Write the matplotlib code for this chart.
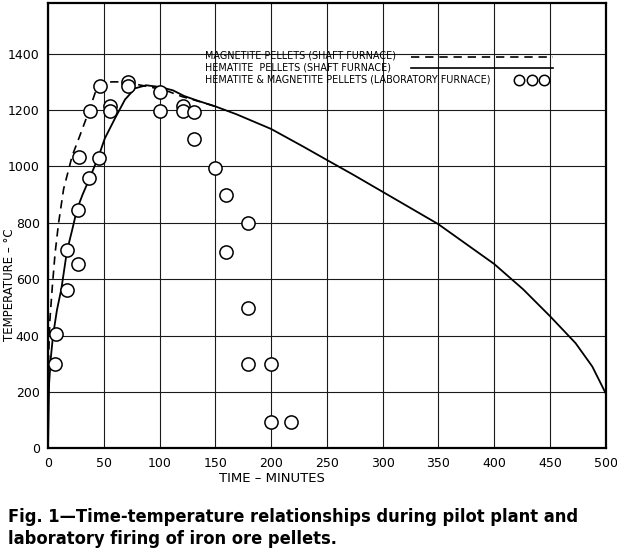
import matplotlib
matplotlib.use("Agg")
import matplotlib.pyplot as plt
from matplotlib.lines import Line2D

# ---- data ----
x_ticks = [0, 50, 100, 150, 200, 250, 300, 350, 400, 450, 500]
y_ticks = [0, 200, 400, 600, 800, 1000, 1200, 1400]

# Hematite pellets (shaft furnace) - solid
hem_t = [0, 1, 2.5, 4.5, 8, 12, 17, 22, 26, 31, 37, 45, 51, 60, 69, 78, 88,
         100, 112, 122, 135, 150, 169, 200, 229, 250, 273, 300, 350, 400,
         426, 450, 473, 488, 500]
hem_T = [0, 230, 320, 400, 490, 566, 700, 780, 848, 900, 955, 1032, 1100,
         1170, 1237, 1277, 1288, 1282, 1270, 1250, 1232, 1213, 1185, 1133,
         1070, 1023, 972, 910, 795, 654, 564, 469, 373, 290, 195]

# Magnetite pellets (shaft furnace) - dashed
mag_t = [0, 1.6, 3.8, 6.3, 9.4, 14, 21.7, 27.7, 36.6, 42.6, 47, 57, 69, 81,
         96, 108, 120, 136, 150]
mag_T = [250, 450, 570, 690, 797, 920, 1038, 1100, 1195, 1265, 1295, 1300,
         1300, 1290, 1278, 1266, 1248, 1230, 1213]

# Hematite & magnetite pellets (laboratory furnace) - circles
lab_t = [6, 7, 17, 17, 27, 27, 28, 37, 38, 46, 47, 56, 56, 72, 72, 100, 100,
         121, 121, 131, 131, 150, 160, 160, 179, 179, 179, 200, 200, 218]
lab_T = [300, 405, 560, 705, 655, 845, 1035, 958, 1195, 1030, 1285, 1215,
         1195, 1300, 1285, 1265, 1195, 1215, 1195, 1193, 1096, 993, 900, 697,
         800, 498, 298, 298, 95, 95]

legend_labels = ["MAGNETITE PELLETS (SHAFT FURNACE)",
                 "HEMATITE  PELLETS (SHAFT FURNACE)",
                 "HEMATITE & MAGNETITE PELLETS (LABORATORY FURNACE)"]
caption = ("Fig. 1\u2014Time-temperature relationships during pilot plant and\n"
           "laboratory firing of iron ore pellets.")

# ---- figure ----
fig = plt.figure(figsize=(6.17, 5.56), dpi=100)
ax = fig.add_axes([0.0778, 0.1937, 0.9039, 0.801])
ax.set_xlim(0, 500)
ax.set_ylim(0, 1580)
ax.set_xticks(x_ticks)
ax.set_yticks(y_ticks)
ax.grid(True, color="#1a1a1a", linewidth=0.8)
ax.set_axisbelow(True)
ax.tick_params(length=0, labelsize=9, pad=6)
for s in ax.spines.values():
    s.set_linewidth(1.6)
    s.set_color("black")

ax.plot(hem_t, hem_T, color="black", linewidth=1.3, zorder=3)
ax.plot(mag_t, mag_T, color="black", linewidth=1.2, linestyle=(0, (5, 3.5)), zorder=3)
ax.plot(lab_t, lab_T, linestyle="none", marker="o", markersize=9.5,
        markerfacecolor="white", markeredgecolor="black", markeredgewidth=1.1, zorder=4)

# legend drawn as text + sample lines
ty = [0.883, 0.855, 0.827]
for y, lab in zip(ty, legend_labels):
    ax.text(0.282, y, lab, transform=ax.transAxes, fontsize=6.9,
            va="center", ha="left", zorder=5)
ax.add_line(Line2D([0.650, 0.905], [0.879, 0.879], transform=ax.transAxes,
                   color="black", linewidth=1.2, linestyle=(0, (5, 3.5))))
ax.add_line(Line2D([0.650, 0.905], [0.853, 0.853], transform=ax.transAxes,
                   color="black", linewidth=1.2))
ax.add_line(Line2D([0.844, 0.867, 0.890], [0.827, 0.827, 0.827], transform=ax.transAxes,
                   linestyle="none", marker="o", markersize=7.5,
                   markerfacecolor="white", markeredgecolor="black", markeredgewidth=1.1))

fig.text(272 / 617, 1 - 479 / 556, "TIME \u2013 MINUTES", fontsize=9.5,
         ha="center", va="center")
fig.text(10 / 617, 1 - 285 / 556, "TEMPERATURE \u2013 \u00b0C", fontsize=8.5,
         ha="center", va="center", rotation=90)

fig.text(8 / 617, 1 - 528 / 556, caption, fontsize=13.1, fontweight="bold",
         fontstretch="condensed", ha="left", va="center", linespacing=1.35)

fig.savefig("out.png", dpi=100, facecolor="white")
